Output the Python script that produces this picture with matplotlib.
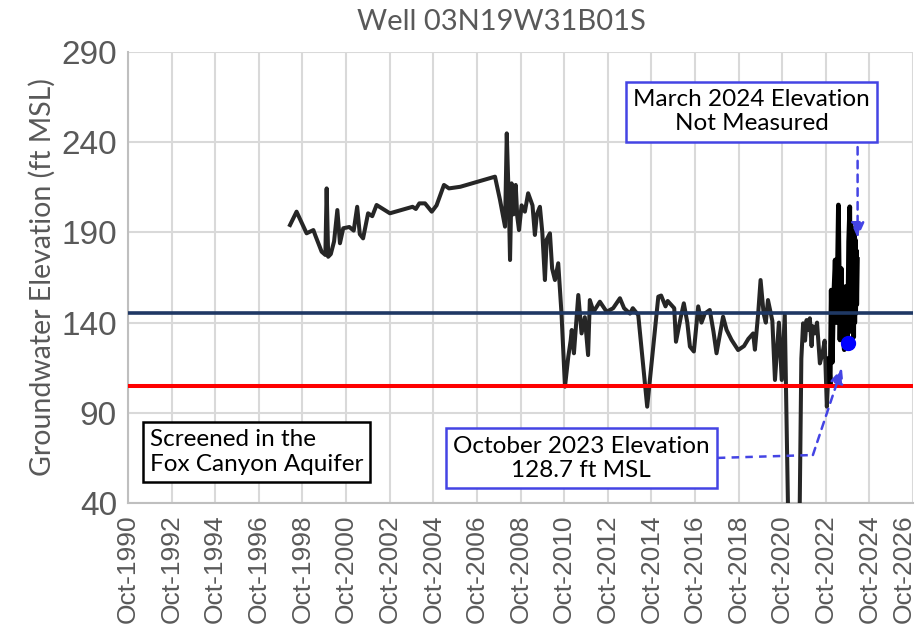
import matplotlib
matplotlib.use("Agg")
import matplotlib.pyplot as plt
from matplotlib.transforms import ScaledTranslation

# groundwater elevation record, decimal year vs ft MSL
years = [1998.18, 1998.48, 1998.94, 1999.25, 1999.35, 1999.63, 1999.80, 1999.86, 1999.93,
         2000.05, 2000.20, 2000.35, 2000.47, 2000.62, 2000.90, 2001.10, 2001.26, 2001.38,
         2001.53, 2001.76, 2001.95, 2002.15, 2002.76, 2003.80, 2003.95, 2004.11, 2004.37,
         2004.68, 2004.90, 2005.24, 2005.47, 2005.99, 2007.58, 2007.81, 2008.04, 2008.12,
         2008.22, 2008.27, 2008.34, 2008.43, 2008.53, 2008.60, 2008.68, 2008.80, 2008.95,
         2009.10, 2009.30, 2009.41, 2009.50, 2009.64, 2009.75, 2009.87, 2009.95, 2010.10,
         2010.20, 2010.33, 2010.48, 2010.63, 2010.79, 2010.94, 2011.05, 2011.10, 2011.20,
         2011.40, 2011.55, 2011.70, 2011.85, 2011.93, 2012.10, 2012.39, 2012.70, 2013.00,
         2013.31, 2013.50, 2013.77, 2013.90, 2014.15, 2014.56, 2014.84, 2015.07, 2015.20,
         2015.40, 2015.50, 2015.80, 2015.88, 2016.10, 2016.24, 2016.40, 2016.52, 2016.70,
         2016.90, 2017.05, 2017.20, 2017.43, 2017.60, 2017.74, 2018.04, 2018.20, 2018.43,
         2018.73, 2019.00, 2019.20, 2019.42, 2019.50, 2019.65, 2019.76, 2019.90, 2020.00,
         2020.10, 2020.30, 2020.42, 2020.60, 2020.73, 2020.87, 2021.07, 2021.52, 2021.63,
         2021.71, 2021.80, 2021.87, 2021.95, 2022.02, 2022.10, 2022.15, 2022.25, 2022.35,
         2022.48, 2022.60, 2022.70, 2022.80, 2022.90]
elev = [194.1, 201.5, 189.5, 191.3, 188.0, 179.3, 177.5, 214.4, 176.5,
        178.0, 185.0, 202.4, 184.0, 192.3, 193.0, 191.0, 204.2, 189.0,
        186.7, 200.6, 199.0, 205.2, 200.6, 204.2, 203.0, 206.1, 206.1,
        201.5, 205.0, 216.3, 214.4, 215.3, 220.9, 208.0, 193.2, 244.9,
        204.2, 174.7, 217.2, 200.0, 216.3, 199.0, 191.3, 205.0, 201.5,
        211.7, 205.0, 188.6, 200.0, 204.2, 190.0, 163.6, 186.0, 189.5,
        170.0, 163.6, 172.9, 145.1, 104.5, 121.0, 130.0, 135.9, 123.0,
        155.3, 134.0, 143.0, 122.0, 152.5, 146.0, 151.6, 146.0, 148.0,
        153.5, 148.0, 145.0, 148.0, 144.2, 93.4, 126.7, 154.4, 155.0,
        149.0, 152.0, 148.0, 129.4, 143.0, 150.7, 140.0, 126.7, 124.0,
        149.0, 140.0, 145.0, 147.0, 135.0, 123.0, 143.3, 136.0, 130.4,
        124.8, 127.0, 131.0, 134.0, 125.0, 145.0, 163.6, 145.0, 140.0,
        152.5, 141.0, 108.2, 140.0, 108.2, 144.2, 0.0, 0.0, 120.0,
        139.6, 130.0, 141.4, 136.0, 142.4, 127.0, 138.0, 134.0, 140.0,
        117.4, 123.0, 130.0, 93.4, 120.0]

# dense recent readings (transducer period)
recent_years = [2022.90, 2022.95, 2023.00, 2023.05, 2023.10, 2023.18, 2023.25, 2023.33,
                2023.40, 2023.46, 2023.50, 2023.55, 2023.60, 2023.66, 2023.75, 2023.80,
                2023.85, 2023.88, 2023.90, 2023.93, 2023.95, 2023.98, 2024.00, 2024.03,
                2024.06, 2024.08, 2024.10, 2024.12, 2024.15, 2024.17, 2024.20]
recent_elev = [120.0, 105.0, 158.0, 118.0, 150.0, 174.7, 140.0, 205.2,
               130.4, 170.0, 150.0, 132.0, 125.0, 160.0, 128.7, 185.0,
               204.2, 140.0, 195.0, 135.0, 190.0, 138.0, 188.0, 132.0,
               192.0, 140.0, 186.0, 145.0, 180.0, 150.0, 175.0]

upper_level = 145.5   # dark blue reference line
lower_level = 105.0   # red reference line

oct_2023 = (2023.75, 128.7)
march_2024 = 2024.21

tick_years = list(range(1990, 2027, 2))
tick_labels = [f"Oct-{y}" for y in tick_years]
y_ticks = [40, 90, 140, 190, 240, 290]

BOX_BLUE = "#4444E4"
GREY_TXT = "#595959"
ANNOT_FONT = "Lato"
DASH = (0, (3, 2.5))

fig = plt.figure(figsize=(9.21, 6.32), dpi=100)
ax = fig.add_axes([0.139, 0.2041, 0.8523, 0.7136])

ax.plot(years, elev, color="#262626", lw=2.9, solid_joinstyle="round", zorder=3)
ax.plot(recent_years, recent_elev, color="black", lw=3.4, solid_joinstyle="round", zorder=3)

ax.axhline(upper_level, color="#1F3864", lw=2.6, zorder=4)
ax.axhline(lower_level, color="#FF0000", lw=2.9, zorder=4)

ax.plot([oct_2023[0]], [oct_2023[1]], "o", color="#0000FF", ms=10, zorder=6)

ax.set_xlim(1990.75, 2026.75)
ax.set_ylim(40, 290)
ax.set_xticks([y + 0.75 for y in tick_years])
ax.set_xticklabels(tick_labels, rotation=90, fontsize=19, color=GREY_TXT,
                   family="Liberation Sans")
ax.set_yticks(y_ticks)
ax.set_yticklabels([str(v) for v in y_ticks], fontsize=24, color=GREY_TXT,
                   family="Liberation Sans")
ax.tick_params(length=0, pad=8)
# last date label sits tight against the right edge, nudge it inward
last = ax.get_xticklabels()[-1]
last.set_transform(last.get_transform() + ScaledTranslation(-0.09, 0, fig.dpi_scale_trans))

ax.grid(True, color="#D9D9D9", lw=1.5, zorder=0)
ax.set_axisbelow(True)
for side in ("top", "right"):
    ax.spines[side].set_visible(False)
for side in ("left", "bottom"):
    ax.spines[side].set_color("#BFBFBF")
    ax.spines[side].set_linewidth(1.5)

ax.set_ylabel("Groundwater Elevation (ft MSL)", fontsize=20.5, color=GREY_TXT,
              family=ANNOT_FONT, labelpad=4)
fig.text(501 / 921, 1 - 22 / 632, "Well 03N19W31B01S", ha="center", va="center",
         fontsize=21, color=GREY_TXT, family=ANNOT_FONT)

# text boxes
ax.text(1991.75, 68.3, "Screened in the\nFox Canyon Aquifer", ha="left", va="center",
        fontsize=17.5, family=ANNOT_FONT, linespacing=1.2, zorder=7,
        bbox=dict(boxstyle="square,pad=0.3", fc="white", ec="black", lw=1.8))
ax.text(2019.34, 257.0, "March 2024 Elevation\nNot Measured", ha="center", va="center",
        fontsize=17.5, family=ANNOT_FONT, linespacing=1.2, zorder=7,
        bbox=dict(boxstyle="square,pad=0.3", fc="white", ec=BOX_BLUE, lw=1.8))
ax.text(2011.54, 64.7, "October 2023 Elevation\n128.7 ft MSL", ha="center", va="center",
        fontsize=17.5, family=ANNOT_FONT, linespacing=1.2, zorder=7,
        bbox=dict(boxstyle="square,pad=0.3", fc="white", ec=BOX_BLUE, lw=1.8))

# dashed leaders
head = "-|>,head_length=0.9,head_width=0.4"
ax.annotate("", xy=(march_2024, 187.0), xytext=(march_2024, 237.3),
            arrowprops=dict(arrowstyle=head, color=BOX_BLUE, lw=1.8, linestyle=DASH,
                            shrinkA=0, shrinkB=0), zorder=5)
ax.plot([2017.80, 2022.16], [65.0, 66.6], color=BOX_BLUE, lw=1.8, linestyle=DASH, zorder=5)
ax.annotate("", xy=(2023.49, 114.8), xytext=(2022.16, 66.6),
            arrowprops=dict(arrowstyle=head, color=BOX_BLUE, lw=1.8, linestyle=DASH,
                            shrinkA=0, shrinkB=0), zorder=5)

fig.savefig("out.png", dpi=100)
